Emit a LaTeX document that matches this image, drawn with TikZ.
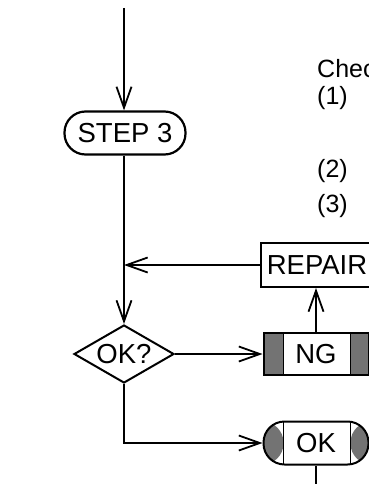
\documentclass[tikz,border=0pt]{standalone}
\usepackage{fontspec}
\setmainfont{Liberation Sans}
\usepackage{tikz}
\usetikzlibrary{arrows.meta,positioning,shapes.geometric}
\newcommand{\chartfont}{\fontsize{27.5}{33}\selectfont}
\newcommand{\notefont}{\fontsize{25}{30}\selectfont}

\begin{document}
\begin{tikzpicture}[
  x=1pt, y=-1pt,
  stadium/.style={draw, line width=2.2pt, rounded corners=21pt,
                  minimum width=121pt, minimum height=43pt,
                  inner sep=0pt, font=\chartfont},
  decision/.style={draw, diamond, aspect=1.72, line width=2pt,
                   minimum width=100pt, minimum height=58pt,
                   inner sep=0pt, font=\chartfont},
  actbox/.style={draw, line width=2pt, minimum width=112pt,
                 minimum height=44pt, inner sep=0pt, font=\chartfont},
  flagged/.style={draw, line width=2pt, minimum width=105pt,
                  minimum height=42pt, inner sep=0pt, font=\chartfont,
                  path picture={
                    \fill[black!55] (path picture bounding box.south west)
                      rectangle ([xshift=20pt]path picture bounding box.north west);
                    \fill[black!55] ([xshift=-18pt]path picture bounding box.south east)
                      rectangle (path picture bounding box.north east);
                    \draw[line width=1.6pt] ([xshift=20pt]path picture bounding box.south west)
                      -- ([xshift=20pt]path picture bounding box.north west);
                    \draw[line width=1.6pt] ([xshift=-18pt]path picture bounding box.south east)
                      -- ([xshift=-18pt]path picture bounding box.north east);
                  }},
  note/.style={anchor=base west, inner sep=0pt, font=\notefont},
  flow/.style={line width=1.8pt,
               -{Straight Barb[length=21pt, width=15pt]}},
]
\useasboundingbox (0,0) rectangle (369,484);
\clip (0,0) rectangle (369,484);

% Hauptstrang
\node[stadium] (step3) at (125,133) {STEP 3};
\node[decision] (test) at (124,354) {OK?};
\coordinate (entry) at (124,8);
\coordinate (join) at (124,265);

% Rechte Spalte
\node[actbox, anchor=west] (repair) at (260,265) {REPAIR};
\node[flagged] (ng) at (316,354) {NG};
\node[flagged, rounded corners=21pt, minimum height=43pt] (ok) at (316,443) {OK};
\coordinate (bend) at (test.south |- ok.west);
\coordinate (exit) at (316,490);

% Hinweise
\node[note] (check) at (317,78) {Check};
\node[note] (item1) at (317,105) {(1)};
\node[note] (item2) at (317,177) {(2)};
\node[note] (item3) at (317,212) {(3)};

% Verbindungen
\draw[flow] (entry) -- (step3.north -| entry);
\draw[flow] (step3.south -| entry) -- (test.north);
\draw[flow] (repair.west) -- (join);
\draw[flow] (test.east) -- (ng.west);
\draw[flow] (ng.north) -- (ng.north |- repair.south);
\draw[flow] (test.south) -- (bend) -- (ok.west);
\draw[line width=1.8pt] (ok.south) -- (exit);
\end{tikzpicture}
\end{document}
